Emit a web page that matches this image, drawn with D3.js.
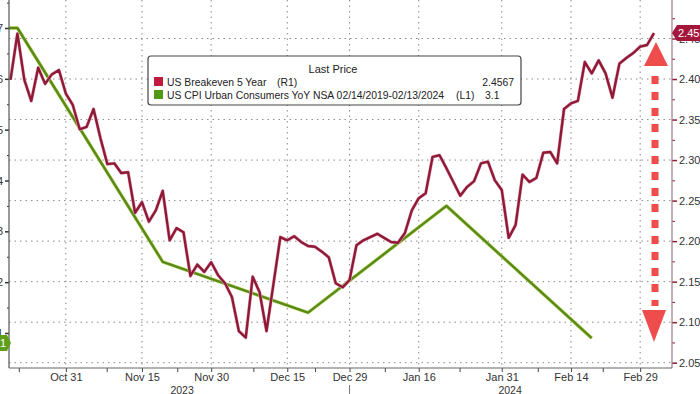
<!DOCTYPE html>
<html>
<head>
<meta charset="utf-8">
<script src="https://cdn.jsdelivr.net/npm/d3@7"></script>
<style>
  body { margin: 0; background: #fff; }
  svg { display: block; font-family: "Liberation Sans", Arial, sans-serif; }
</style>
</head>
<body>
<svg id="chart" width="700" height="394"></svg>
<script>
// US Breakeven 5 Year, one value per trading day (right axis)
var beValues = [
  2.399, 2.456, 2.399, 2.373, 2.414, 2.394, 2.406, 2.411, 2.382, 2.368,
  2.338, 2.341, 2.363, 2.327, 2.295, 2.296, 2.284, 2.285, 2.235, 2.248,
  2.224, 2.238, 2.262, 2.201, 2.216, 2.211, 2.157, 2.171, 2.162, 2.174,
  2.158, 2.148, 2.131, 2.089, 2.081, 2.156, 2.137, 2.089, 2.147, 2.205,
  2.201, 2.206, 2.199, 2.194, 2.193, 2.187, 2.180, 2.148, 2.143, 2.152,
  2.195, 2.201, 2.205, 2.209, 2.204, 2.199, 2.198, 2.210, 2.238, 2.253,
  2.259, 2.304, 2.306, 2.290, 2.273, 2.256, 2.267, 2.274, 2.296, 2.298,
  2.275, 2.263, 2.204, 2.220, 2.282, 2.273, 2.278, 2.309, 2.310, 2.296,
  2.363, 2.370, 2.373, 2.421, 2.407, 2.423, 2.407, 2.377, 2.419, 2.426,
  2.432, 2.440, 2.442, 2.4567
];
// US CPI YoY, monthly prints placed on the trading-day index (left axis)
var cpiIdx = [-20, 1, 22, 43, 63, 84];
var cpiValues = [3.70, 3.70, 3.24, 3.14, 3.35, 3.09];

var xTickLabels = ["Oct 31", "Nov 15", "Nov 30", "Dec 15", "Dec 29", "Jan 16", "Jan 31", "Feb 14", "Feb 29"];
var xTickIdx = [8, 19, 29, 40, 49, 59, 71, 81, 91];
var xMinorIdx = [1.2, 13.9, 24.1, 35.1, 44, 54.1, 64.9, 76.2, 85.6];
var yearLabels = ["2023", "2024"];
var yearIdx = [24.8, 72.2];
var yearBreakIdx = 49;

var rightTicks = [2.05, 2.10, 2.15, 2.20, 2.25, 2.30, 2.35, 2.40, 2.45];
var leftTicks = [3.1, 3.2, 3.3, 3.4, 3.5, 3.6, 3.7];

var legendTitle = "Last Price";
var seriesNames = ["US Breakeven 5 Year", "US CPI Urban Consumers YoY NSA 02/14/2019-02/13/2024"];
var seriesAxes = ["(R1)", "(L1)"];
var seriesLast = ["2.4567", "3.1"];
var seriesColors = ["#c21a3e", "#4e9a14"];

var svg = d3.select("#chart");
var pL = 9, pR = 672, pT = 0, pB = 368;

var x = d3.scaleLinear().domain([0, beValues.length - 1]).range([10.5, 654]);
var yR = d3.scaleLinear().domain([2.05, 2.45]).range([362.7, 38.5]);
var yL = d3.scaleLinear().domain([3.1, 3.7]).range([333, 28]);

svg.append("defs").append("clipPath").attr("id", "plotclip")
  .append("rect").attr("x", pL).attr("y", pT).attr("width", pR - pL).attr("height", pB - pT);

// grid
var grid = svg.append("g");
grid.selectAll(".hg").data(rightTicks).enter().append("line")
  .attr("x1", pL).attr("x2", pR)
  .attr("y1", function (d) { return yR(d); }).attr("y2", function (d) { return yR(d); })
  .attr("stroke", "#8a8a8a").attr("stroke-width", 1).attr("stroke-dasharray", "1.5,4");
grid.selectAll(".vg").data(xTickIdx).enter().append("line")
  .attr("x1", function (d) { return x(d); }).attr("x2", function (d) { return x(d); })
  .attr("y1", pT).attr("y2", pB)
  .attr("stroke", "#8a8a8a").attr("stroke-width", 1).attr("stroke-dasharray", "1.5,4");

// series
var plot = svg.append("g").attr("clip-path", "url(#plotclip)");
var cpiLine = d3.line()
  .x(function (d, i) { return x(cpiIdx[i]); })
  .y(function (d) { return yL(d); });
plot.append("path").datum(cpiValues).attr("d", cpiLine)
  .attr("fill", "none").attr("stroke", "#c2dc78").attr("stroke-width", 3.6).attr("stroke-linejoin", "round");
plot.append("path").datum(cpiValues).attr("d", cpiLine)
  .attr("fill", "none").attr("stroke", "#5a8a16").attr("stroke-width", 2.4).attr("stroke-linejoin", "round");

var beLine = d3.line()
  .x(function (d, i) { return x(i); })
  .y(function (d) { return yR(d); });
plot.append("path").datum(beValues).attr("d", beLine)
  .attr("fill", "none").attr("stroke", "#e8b0be").attr("stroke-width", 3.4).attr("stroke-linejoin", "round");
plot.append("path").datum(beValues).attr("d", beLine)
  .attr("fill", "none").attr("stroke", "#8e1a38").attr("stroke-width", 2.4).attr("stroke-linejoin", "round");

// axes
function styleAxis(g, col) {
  g.select(".domain").remove();
  g.selectAll("line").attr("stroke", col);
  g.selectAll("text").attr("fill", "#333").style("font-size", "11px")
    .style("font-family", "Liberation Sans, Arial, sans-serif");
}

var gR = svg.append("g").attr("transform", "translate(" + pR + ",0)")
  .call(d3.axisRight(yR).tickValues(rightTicks).tickSize(5).tickPadding(2).tickFormat(d3.format(".2f")));
styleAxis(gR, "#8e1a38");
gR.selectAll("line").attr("stroke-width", 1.5);
var gRm = svg.append("g").attr("transform", "translate(" + pR + ",0)")
  .call(d3.axisRight(yR).tickValues(d3.range(2.075, 2.48, 0.05)).tickSize(3).tickFormat(""));
styleAxis(gRm, "#8e1a38");

var gL = svg.append("g").attr("transform", "translate(" + pL + ",0)")
  .call(d3.axisLeft(yL).tickValues(leftTicks).tickSize(4).tickPadding(2).tickFormat(d3.format(".1f")));
styleAxis(gL, "#333");
gL.selectAll("line").attr("stroke-width", 1.5);
var gLm = svg.append("g").attr("transform", "translate(" + pL + ",0)")
  .call(d3.axisLeft(yL).tickValues(d3.range(3.15, 3.76, 0.1)).tickSize(2).tickFormat(""));
styleAxis(gLm, "#333");

var gX = svg.append("g").attr("transform", "translate(0," + pB + ")")
  .call(d3.axisBottom(x).tickValues(xTickIdx).tickSize(4).tickPadding(1)
    .tickFormat(function (d, i) { return xTickLabels[i]; }));
styleAxis(gX, "#444");
var gXm = svg.append("g").attr("transform", "translate(0," + pB + ")")
  .call(d3.axisBottom(x).tickValues(xMinorIdx).tickSize(4).tickFormat(""));
styleAxis(gXm, "#444");

// frame lines
svg.append("line").attr("x1", pL).attr("x2", pL).attr("y1", pT).attr("y2", pB)
  .attr("stroke", "#555").attr("stroke-width", 1.2);
svg.append("line").attr("x1", pR).attr("x2", pR).attr("y1", pT).attr("y2", pB)
  .attr("stroke", "#9c7c88").attr("stroke-width", 1.2);
svg.append("line").attr("x1", pL).attr("x2", pR).attr("y1", pB).attr("y2", pB)
  .attr("stroke", "#666").attr("stroke-width", 1.2);

// years
svg.selectAll(".yr").data(yearLabels).enter().append("text")
  .attr("x", function (d, i) { return x(yearIdx[i]); }).attr("y", 393.5)
  .attr("text-anchor", "middle").attr("fill", "#333").style("font-size", "10.5px")
  .text(function (d) { return d; });
svg.append("line").attr("x1", x(yearBreakIdx)).attr("x2", x(yearBreakIdx))
  .attr("y1", 385).attr("y2", 394).attr("stroke", "#777").attr("stroke-width", 1);

// last value tags
var ty = yR(beValues[beValues.length - 1]);
svg.append("path")
  .attr("d", "M" + pR + "," + ty + " l5,-8 h30 v16 h-30 z")
  .attr("fill", "#a3173a");
svg.append("text").attr("x", pR + 6).attr("y", ty + 4)
  .attr("fill", "#fff").style("font-size", "11px").text(seriesLast[0]);

var ly = yL(cpiValues[cpiValues.length - 1]) + 5;
svg.append("path")
  .attr("d", "M" + (pL + 2) + "," + ly + " l-4,-8 h-30 v16 h30 z")
  .attr("fill", "#5f9e1c");
svg.append("text").attr("x", pL - 3).attr("y", ly + 4).attr("text-anchor", "end")
  .attr("fill", "#fff").style("font-size", "11px").text(seriesLast[1]);

// legend
var lg = svg.append("g");
lg.append("rect").attr("x", 148).attr("y", 56).attr("width", 373).attr("height", 49)
  .attr("rx", 3).attr("fill", "#fff").attr("stroke", "#444").attr("stroke-width", 1.2);
lg.append("text").attr("x", 333).attr("y", 73).attr("text-anchor", "middle")
  .attr("fill", "#222").style("font-size", "11px").text(legendTitle);
seriesNames.forEach(function (name, i) {
  var yy = 77 + i * 13;
  lg.append("rect").attr("x", 154).attr("y", yy).attr("width", 9).attr("height", 9)
    .attr("fill", seriesColors[i]);
  lg.append("text").attr("x", 167).attr("y", yy + 8.5).attr("fill", "#222")
    .style("font-size", "10.4px").text(name);
  lg.append("text").attr("x", i === 0 ? 277 : 456).attr("y", yy + 8.5).attr("fill", "#222")
    .style("font-size", "10.4px").text(seriesAxes[i]);
  lg.append("text").attr("x", i === 0 ? 514 : 485).attr("y", yy + 8.5)
    .attr("text-anchor", i === 0 ? "end" : "start").attr("fill", "#222")
    .style("font-size", "10.4px").text(seriesLast[i]);
});

// red dashed double arrow annotation
var ar = svg.append("g").attr("opacity", 0.9);
ar.append("line").attr("x1", 655).attr("x2", 655).attr("y1", 76).attr("y2", 306)
  .attr("stroke", "#ee3a3a").attr("stroke-width", 7).attr("stroke-dasharray", "8,8");
ar.append("path").attr("d", "M656,42 L668,66 L644,66 Z").attr("fill", "#ee3a3a");
ar.append("path").attr("d", "M654,342 L666,310 L642,310 Z").attr("fill", "#ee3a3a");
</script>
</body>
</html>
